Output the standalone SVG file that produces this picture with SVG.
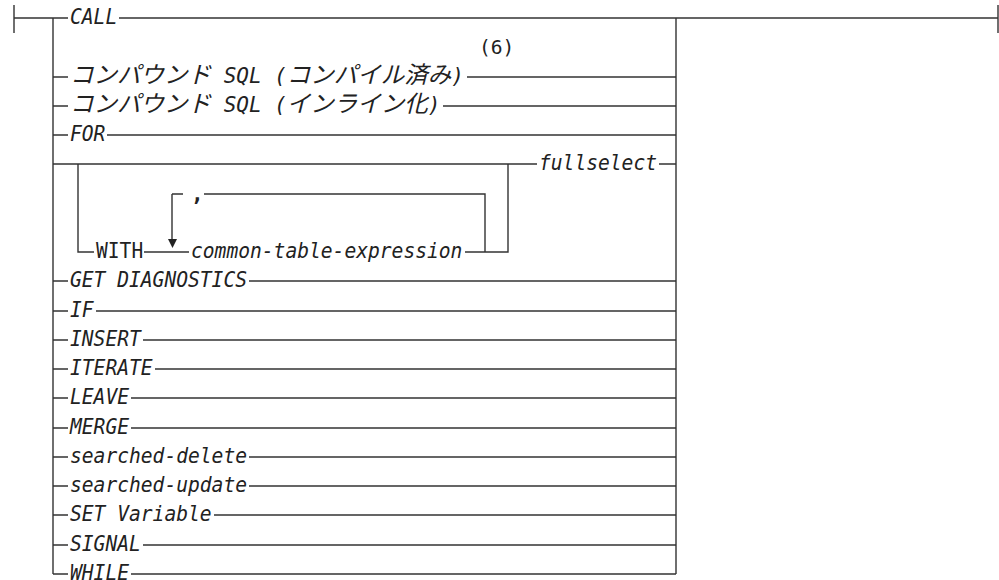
<svg xmlns="http://www.w3.org/2000/svg" width="999" height="580" viewBox="0 0 999 580">
<style>
.t{font-family:"DejaVu Sans Mono","Liberation Mono",monospace;font-size:21px;font-style:italic;fill:#222}
.s{font-size:19.6px}
.r{font-style:normal}
.j{font-family:"Noto Sans CJK JP","Noto Sans CJK SC",sans-serif;font-size:23.5px;font-style:italic}
.l{fill:none;stroke:#333;stroke-width:1.4}
</style>
<rect width="999" height="580" fill="#fff"/>
<g id="connectors" class="l">
<path d="M14 5V33M14 18H68M53 18V574M676 18V574M676 18H998M998 5V33"/>
<path d="M119 18H676"/>
<path d="M53 77H68M467 77H676"/>
<path d="M53 106H68M443 106H676"/>
<path d="M53 135H68M107 135H676"/>
<path d="M53 164H537M659 164H676"/>
<path d="M78 164V252H94M144 252H189M172 194V240M172 194H183M204 194H485V252M465 252H508V164"/>
<path d="M53 281H68M249 281H676"/>
<path d="M53 311H68M96 311H676"/>
<path d="M53 340H68M143 340H676"/>
<path d="M53 369H68M155 369H676"/>
<path d="M53 398H68M131 398H676"/>
<path d="M53 428H68M131 428H676"/>
<path d="M53 457H68M249 457H676"/>
<path d="M53 486H68M249 486H676"/>
<path d="M53 515H68M214 515H676"/>
<path d="M53 545H68M143 545H676"/>
<path d="M53 574H68M131 574H676"/>
<polygon points="168,239 177,239 172.5,248" fill="#222" stroke="none"/>
</g>
<g id="n-call"><text class="t" x="70" y="24" textLength="47.2" lengthAdjust="spacingAndGlyphs">CALL</text></g>
<g id="n-note6"><text class="t s r" x="479" y="54">(6)</text></g>
<g id="n-compound-compiled"><text class="t" x="70" y="83"><tspan class="j">コンパウンド</tspan> SQL (<tspan class="j">コンパイル済み</tspan>)</text></g>
<g id="n-compound-inline"><text class="t" x="70" y="112"><tspan class="j">コンパウンド</tspan> SQL (<tspan class="j">インライン化</tspan>)</text></g>
<g id="n-for"><text class="t" x="70" y="141" textLength="35.4" lengthAdjust="spacingAndGlyphs">FOR</text></g>
<g id="n-with"><text class="t r" x="96" y="258" textLength="47.2" lengthAdjust="spacingAndGlyphs">WITH</text></g>
<g id="n-comma"><text class="t r" x="191" y="201" style="font-weight:bold">,</text></g>
<g id="n-cte"><text class="t" x="191" y="258" textLength="271.4" lengthAdjust="spacingAndGlyphs">common-table-expression</text></g>
<g id="n-fullselect"><text class="t" x="539" y="170" textLength="118" lengthAdjust="spacingAndGlyphs">fullselect</text></g>
<g id="n-getdiag"><text class="t" x="70" y="287" textLength="177" lengthAdjust="spacingAndGlyphs">GET DIAGNOSTICS</text></g>
<g id="n-if"><text class="t" x="70" y="317" textLength="23.6" lengthAdjust="spacingAndGlyphs">IF</text></g>
<g id="n-insert"><text class="t" x="70" y="346" textLength="70.8" lengthAdjust="spacingAndGlyphs">INSERT</text></g>
<g id="n-iterate"><text class="t" x="70" y="375" textLength="82.6" lengthAdjust="spacingAndGlyphs">ITERATE</text></g>
<g id="n-leave"><text class="t" x="70" y="404" textLength="59" lengthAdjust="spacingAndGlyphs">LEAVE</text></g>
<g id="n-merge"><text class="t" x="70" y="434" textLength="59" lengthAdjust="spacingAndGlyphs">MERGE</text></g>
<g id="n-sdelete"><text class="t" x="70" y="463" textLength="177" lengthAdjust="spacingAndGlyphs">searched-delete</text></g>
<g id="n-supdate"><text class="t" x="70" y="492" textLength="177" lengthAdjust="spacingAndGlyphs">searched-update</text></g>
<g id="n-setvar"><text class="t" x="70" y="521" textLength="141.6" lengthAdjust="spacingAndGlyphs">SET Variable</text></g>
<g id="n-signal"><text class="t" x="70" y="551" textLength="70.8" lengthAdjust="spacingAndGlyphs">SIGNAL</text></g>
<g id="n-while"><text class="t" x="70" y="580" textLength="59" lengthAdjust="spacingAndGlyphs">WHILE</text></g>
</svg>
